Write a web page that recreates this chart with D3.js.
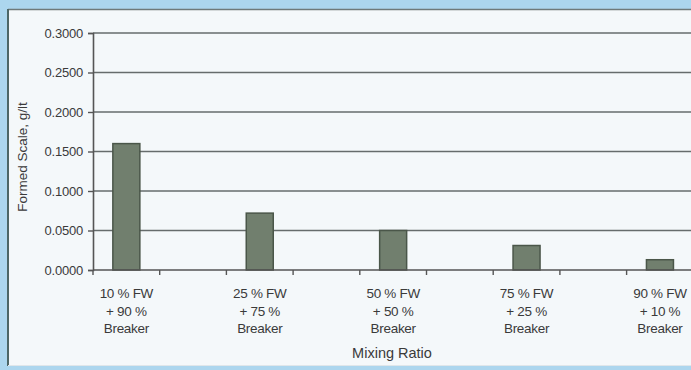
<!DOCTYPE html>
<html>
<head>
<meta charset="utf-8">
<script src="https://cdn.jsdelivr.net/npm/d3@7"></script>
<style>
  html, body { margin: 0; padding: 0; background: #acd6ee; }
  svg { display: block; }
  text { font-family: "Liberation Sans", Arial, sans-serif; fill: #3a3a3a; }
</style>
</head>
<body>
<svg id="chart" width="691" height="370"></svg>
<script>
// Mixing ratios of formation water (FW) and breaker water
const categories = ["10 % FW|+ 90 %|Breaker", "25 % FW|+ 75 %|Breaker", "50 % FW|+ 50 %|Breaker", "75 % FW|+ 25 %|Breaker", "90 % FW|+ 10 %|Breaker"];
// Formed scale, g/lt
const scaleValues = [0.160, 0.072, 0.050, 0.031, 0.013];
const yTicks = [0, 0.05, 0.10, 0.15, 0.20, 0.25, 0.30];

const svg = d3.select("#chart");
const W = 691, H = 370;

// chart panel
svg.append("rect").attr("x", 8).attr("y", 9).attr("width", W).attr("height", 357)
  .attr("fill", "#f4f8fa");
svg.append("line").attr("x1", 8).attr("x2", W).attr("y1", 9.5).attr("y2", 9.5)
  .attr("stroke", "#6f7a7a").attr("stroke-width", 1.5);
svg.append("line").attr("x1", 8).attr("x2", 8).attr("y1", 9).attr("y2", 366)
  .attr("stroke", "#4d6666").attr("stroke-width", 2);
svg.append("line").attr("x1", 8).attr("x2", W).attr("y1", 365.5).attr("y2", 365.5)
  .attr("stroke", "#dfe6ea").attr("stroke-width", 1);

const plot = { left: 93, right: 760, top: 33, bottom: 270 };

const x = d3.scaleBand().domain(categories).range([plot.left, plot.right]).paddingInner(0).paddingOuter(0);
const y = d3.scaleLinear().domain([0, 0.3]).range([plot.bottom, plot.top]);
const bw = x.bandwidth();
const barW = 27;
const barCenter = c => x(c) + bw / 4;

// horizontal gridlines
svg.append("g").selectAll("line").data(yTicks.slice(1)).join("line")
  .attr("x1", plot.left).attr("x2", W)
  .attr("y1", d => y(d)).attr("y2", d => y(d))
  .attr("stroke", "#666c6c").attr("stroke-width", 1.7);

// y axis
const yAxis = svg.append("g").attr("transform", `translate(${plot.left},0)`)
  .call(d3.axisLeft(y).tickValues(yTicks).tickFormat(d3.format(".4f")).tickSize(5).tickPadding(5));
yAxis.select(".domain").attr("stroke", "#555").attr("stroke-width", 1.6);
yAxis.selectAll(".tick line").attr("stroke", "#555").attr("stroke-width", 1.4);
yAxis.selectAll(".tick text").attr("font-size", 13).attr("fill", "#3a3a3a")
  .attr("font-family", "Liberation Sans, Arial, sans-serif").attr("letter-spacing", -0.2);

// bars
svg.append("g").selectAll("rect").data(categories).join("rect")
  .attr("x", c => barCenter(c) - barW / 2)
  .attr("width", barW)
  .attr("y", (c, i) => y(scaleValues[i]))
  .attr("height", (c, i) => y(0) - y(scaleValues[i]))
  .attr("fill", "#717f6e").attr("stroke", "#4a5649").attr("stroke-width", 1.5);

// x axis line and tick marks at half-band steps
svg.append("line").attr("x1", plot.left).attr("x2", W)
  .attr("y1", y(0)).attr("y2", y(0)).attr("stroke", "#555").attr("stroke-width", 1.6);
const tickXs = [];
categories.forEach(c => { tickXs.push(x(c)); tickXs.push(x(c) + bw / 2); });
svg.append("g").selectAll("line").data(tickXs).join("line")
  .attr("x1", d => d).attr("x2", d => d)
  .attr("y1", y(0)).attr("y2", y(0) + 5)
  .attr("stroke", "#555").attr("stroke-width", 1.4);

// category labels
const lab = svg.append("g").selectAll("text").data(categories).join("text")
  .attr("text-anchor", "middle").attr("font-size", 13.5).attr("letter-spacing", -0.3)
  .attr("x", c => barCenter(c)).attr("y", 298);
lab.selectAll("tspan").data(c => c.split("|")).join("tspan")
  .attr("x", function () { return d3.select(this.parentNode).attr("x"); })
  .attr("dy", (d, i) => i === 0 ? 0 : 17.5)
  .text(d => d);

// axis titles
svg.append("text").attr("x", 392).attr("y", 358).attr("text-anchor", "middle")
  .attr("font-size", 14.5).text("Mixing Ratio");
svg.append("text").attr("transform", "translate(27,157) rotate(-90)")
  .attr("text-anchor", "middle").attr("font-size", 13.5).text("Formed Scale, g/lt");
</script>
</body>
</html>
